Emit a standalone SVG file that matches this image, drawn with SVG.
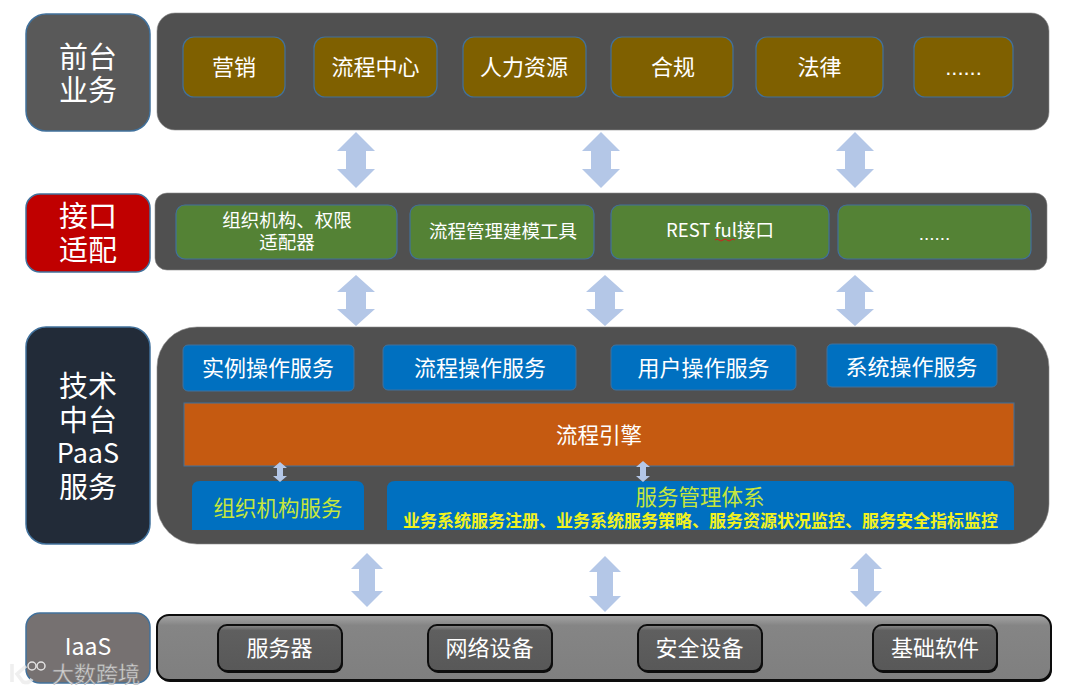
<svg xmlns="http://www.w3.org/2000/svg" width="1080" height="692" viewBox="0 0 1080 692">
<defs>
<linearGradient id="bevel" x1="0" y1="0" x2="0" y2="1"><stop offset="0" stop-color="#a6a6a6"/><stop offset="0.16" stop-color="#858585"/><stop offset="1" stop-color="#7f7f7f"/></linearGradient>
<linearGradient id="btn" x1="0" y1="0" x2="0" y2="1"><stop offset="0" stop-color="#8c8c8c"/><stop offset="0.12" stop-color="#5f5f5f"/><stop offset="1" stop-color="#585858"/></linearGradient>
</defs>
<style>
text{font-family:"Noto Sans CJK SC","Liberation Sans",sans-serif;text-anchor:middle;dominant-baseline:central;fill:#fff;transform:translateY(-2px)}
.side{stroke:#41719c;stroke-width:1.5}
.panel{fill:#505050;stroke:#8a8a8a;stroke-width:.6}
.gold{fill:#7f6000;stroke:#41719c;stroke-width:1.2}
.green{fill:#548235;stroke:#41719c;stroke-width:1.2}
.blue{fill:#0070c0;stroke:#41719c;stroke-width:1}
.btn{fill:url(#btn);stroke:#0d0d0d;stroke-width:2}
.shade{fill:#0d0d0d}
.arrow{fill:#b4c7e7}
.t29{font-size:29px}.t22{font-size:22px}.t18{font-size:18.5px}
.lime{fill:#c6e63c;font-size:21.5px}
.bold{fill:#f2f21e;font-size:17px;font-weight:700}
</style>
<g id="row-front">
<rect class="panel" x="157" y="13" width="892" height="117" rx="18"/>
<g id="side-front"><rect class="side" x="26" y="14" width="124" height="117" rx="20" fill="#595959"/><text class="t29" x="88" y="57">前台</text><text class="t29" x="88" y="90">业务</text></g>
<g id="f1"><rect class="gold" x="183" y="37" width="102" height="60" rx="11"/><text class="t22" x="234" y="67">营销</text></g>
<g id="f2"><rect class="gold" x="314" y="37" width="123" height="60" rx="11"/><text class="t22" x="375.500" y="67">流程中心</text></g>
<g id="f3"><rect class="gold" x="463" y="37" width="123" height="60" rx="11"/><text class="t22" x="524" y="67">人力资源</text></g>
<g id="f4"><rect class="gold" x="611" y="37" width="122" height="60" rx="11"/><text class="t22" x="673" y="67">合规</text></g>
<g id="f5"><rect class="gold" x="756" y="37" width="127" height="60" rx="11"/><text class="t22" x="819.500" y="67">法律</text></g>
<g id="f6"><rect class="gold" x="914" y="37" width="99" height="60" rx="11"/><text x="963.500" y="69" font-size="22" style="font-family:'Liberation Sans',sans-serif">......</text></g>
</g>
<g id="row-adapter">
<rect class="panel" x="155" y="193" width="892" height="77" rx="12"/>
<g id="side-adapter"><rect class="side" x="26" y="194" width="124" height="78" rx="14" fill="#c00000"/><text class="t29" x="88" y="216">接口</text><text class="t29" x="88" y="250">适配</text></g>
<g id="a1"><rect class="green" x="176" y="205" width="221" height="54" rx="9"/><text class="t18" x="287" y="221">组织机构、权限</text><text class="t18" x="287" y="243">适配器</text></g>
<g id="a2"><rect class="green" x="410" y="205" width="184" height="54" rx="9"/><text class="t18" x="503" y="232">流程管理建模工具</text></g>
<g id="a3"><rect class="green" x="611" y="205" width="218" height="54" rx="9"/><text class="t18" x="720" y="231">REST ful接口</text><path d="M715 240q2-2 4 0t4 0t4 0t4 0t4 0" fill="none" stroke="#d02020" stroke-width="1"/></g>
<g id="a4"><rect class="green" x="838" y="205" width="193" height="54" rx="9"/><text x="934.500" y="235" font-size="19" style="font-family:'Liberation Sans',sans-serif">......</text></g>
</g>
<g id="row-paas">
<rect class="panel" x="157" y="327" width="892" height="217" rx="40"/>
<g id="side-paas"><rect class="side" x="26" y="327" width="124" height="217" rx="20" fill="#222b38"/><text class="t29" x="88" y="386">技术</text><text class="t29" x="88" y="420">中台</text><text x="88" y="453" font-size="27">PaaS</text><text class="t29" x="88" y="487">服务</text></g>
<g id="p1"><rect class="blue" x="183" y="345" width="171" height="46" rx="5"/><text class="t22" x="268" y="368">实例操作服务</text></g>
<g id="p2"><rect class="blue" x="383" y="345" width="193" height="45" rx="5"/><text class="t22" x="480" y="368">流程操作服务</text></g>
<g id="p3"><rect class="blue" x="611" y="345" width="185" height="45" rx="5"/><text class="t22" x="703.500" y="368">用户操作服务</text></g>
<g id="p4"><rect class="blue" x="827" y="344" width="170" height="43" rx="5"/><text class="t22" x="911.500" y="367">系统操作服务</text></g>
<g id="engine"><rect x="184" y="403" width="830" height="63" fill="#c55a11" stroke="#41719c" stroke-width="1"/><text x="599" y="435" font-size="21.500">流程引擎</text></g>
<g id="org"><path d="M192 530V489q0-8 8-8H356q8 0 8 8V530z" fill="#0070c0"/><text class="lime" x="278" y="508">组织机构服务</text></g>
<g id="mgmt"><path d="M387 530V489q0-8 8-8H1006q8 0 8 8V530z" fill="#0070c0"/><text class="lime" x="700" y="497">服务管理体系</text><text class="bold" x="700.500" y="521">业务系统服务注册、业务系统服务策略、服务资源状况监控、服务安全指标监控</text></g>
</g>
<g id="row-iaas">
<rect class="shade" x="158" y="617" width="894" height="65" rx="12"/>
<rect x="157" y="615" width="894" height="65" rx="12" fill="url(#bevel)" stroke="#0d0d0d" stroke-width="2"/>
<g id="side-iaas"><rect class="side" x="26" y="613" width="124" height="70" rx="14" fill="#767171"/><text x="88" y="647" font-size="23">IaaS</text></g>
<g id="i1"><rect class="shade" x="219" y="627" width="124" height="46" rx="9"/><rect class="btn" x="218" y="625" width="124" height="46" rx="9"/><text class="t22" x="279.500" y="648">服务器</text></g>
<g id="i2"><rect class="shade" x="429" y="627" width="124" height="46" rx="9"/><rect class="btn" x="428" y="625" width="124" height="46" rx="9"/><text class="t22" x="489.500" y="648">网络设备</text></g>
<g id="i3"><rect class="shade" x="639" y="627" width="124" height="46" rx="9"/><rect class="btn" x="638" y="625" width="124" height="46" rx="9"/><text class="t22" x="699.500" y="648">安全设备</text></g>
<g id="i4"><rect class="shade" x="874" y="627" width="124" height="46" rx="9"/><rect class="btn" x="873" y="625" width="124" height="46" rx="9"/><text class="t22" x="935" y="648">基础软件</text></g>
</g>
<g id="connectors">
<path class="arrow" d="M356 132l19 19h-9v18h9l-19 19l-19-19h9v-18h-9z"/>
<path class="arrow" d="M601 132l19 19h-9v18h9l-19 19l-19-19h9v-18h-9z"/>
<path class="arrow" d="M855 132l19 19h-9v18h9l-19 19l-19-19h9v-18h-9z"/>
<path class="arrow" d="M356 275l19 17h-9v17h9l-19 17l-19-17h9v-17h-9z"/>
<path class="arrow" d="M605 275l19 17h-9v17h9l-19 17l-19-17h9v-17h-9z"/>
<path class="arrow" d="M855 275l19 17h-9v17h9l-19 17l-19-17h9v-17h-9z"/>
<path class="arrow" d="M367 553l16 16h-8v22h8l-16 16l-16-16h8v-22h-8z"/>
<path class="arrow" d="M605 556l16 16h-8v24h8l-16 16l-16-16h8v-24h-8z"/>
<path class="arrow" d="M866 553l16 16h-8v22h8l-16 16l-16-16h8v-22h-8z"/>
<path class="arrow" d="M280 462l7 6h-4v8h4l-7 6l-7-6h4v-8h-4z"/>
<path class="arrow" d="M643 461l7 6h-4v9h4l-7 6l-7-6h4v-9h-4z"/>
</g>
<g id="watermark" opacity="0.8">
<path d="M12 664v18M26 666l-9 8l6 8q6 2 9-3" fill="none" stroke="#ececec" stroke-width="3.500"/>
<circle cx="32" cy="666" r="4" fill="none" stroke="#fff" stroke-width="1.500"/><circle cx="41" cy="666" r="4" fill="none" stroke="#fff" stroke-width="1.500"/>
<text x="96" y="674" font-size="22" style="fill:#ececec;stroke:#8a8a8a;stroke-width:.5">大数跨境</text>
</g>
</svg>
